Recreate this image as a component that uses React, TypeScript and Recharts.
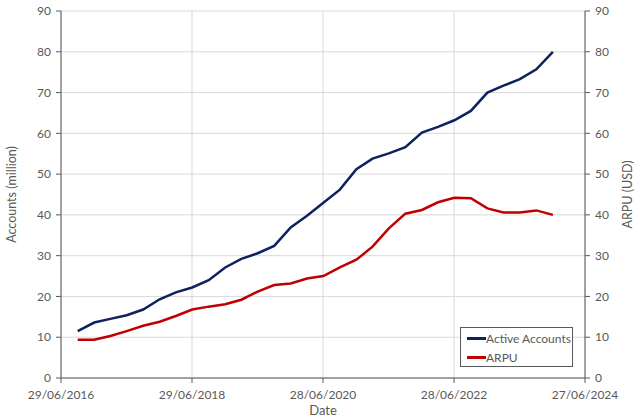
import React from 'react';
import {
  LineChart,
  Line,
  XAxis,
  YAxis,
  CartesianGrid,
} from 'recharts';

// quarter-end dates
const dates = [
  '2016-09-30', '2016-12-31', '2017-03-31', '2017-06-30', '2017-09-30', '2017-12-31',
  '2018-03-31', '2018-06-30', '2018-09-30', '2018-12-31', '2019-03-31', '2019-06-30',
  '2019-09-30', '2019-12-31', '2020-03-31', '2020-06-30', '2020-09-30', '2020-12-31',
  '2021-03-31', '2021-06-30', '2021-09-30', '2021-12-31', '2022-03-31', '2022-06-30',
  '2022-09-30', '2022-12-31', '2023-03-31', '2023-06-30', '2023-09-30', '2023-12-31',
];

const activeAccounts = [
  11.5, 13.6, 14.5, 15.4, 16.8, 19.3, 21.0, 22.2, 24.0, 27.1, 29.2, 30.6, 32.4, 36.9, 39.8,
  43.0, 46.2, 51.2, 53.8, 55.1, 56.6, 60.2, 61.6, 63.2, 65.5, 70.0, 71.7, 73.3, 75.7, 80.0,
];

const arpu = [
  9.4, 9.4, 10.3, 11.5, 12.8, 13.8, 15.2, 16.8, 17.5, 18.1, 19.2, 21.2, 22.8, 23.2, 24.4,
  25.0, 27.1, 29.0, 32.2, 36.7, 40.3, 41.2, 43.1, 44.2, 44.1, 41.6, 40.6, 40.6, 41.1, 40.0,
];

const xTickLabels = ['29/06/2016', '29/06/2018', '28/06/2020', '28/06/2022', '27/06/2024'];
const yTicks = [0, 10, 20, 30, 40, 50, 60, 70, 80, 90];

const DAY = 86400000;
const isoToDay = (s: string) => Date.parse(s + 'T00:00:00Z') / DAY;
const dmyToDay = (s: string) => {
  const [d, m, y] = s.split('/');
  return isoToDay(`${y}-${m}-${d}`);
};
const dayToDmy = (v: number) => {
  const dt = new Date(v * DAY);
  const dd = String(dt.getUTCDate()).padStart(2, '0');
  const mm = String(dt.getUTCMonth() + 1).padStart(2, '0');
  return `${dd}/${mm}/${dt.getUTCFullYear()}`;
};

const xTicks = xTickLabels.map(dmyToDay);

const data = dates.map((d, i) => ({
  t: isoToDay(d),
  accounts: activeAccounts[i],
  arpu: arpu[i],
}));

const FONT = 'Lato, "Open Sans", sans-serif';
const GRAY = '#595959';
const BLUE = '#0f2260';
const RED = '#c00000';

const tickStyle = { fontSize: 12, fill: GRAY, fontFamily: FONT };

function LegendBox() {
  const items = [
    { name: 'Active Accounts', color: BLUE },
    { name: 'ARPU', color: RED },
  ];
  return (
    <div
      style={{
        position: 'absolute',
        left: 460,
        top: 327,
        width: 113,
        height: 40,
        border: `1px solid ${GRAY}`,
        background: '#fff',
        boxSizing: 'border-box',
        paddingTop: 1,
      }}
    >
      {items.map((it) => (
        <div
          key={it.name}
          style={{ display: 'flex', alignItems: 'center', height: 19, paddingLeft: 6 }}
        >
          <span
            style={{ display: 'inline-block', width: 19, height: 3, background: it.color }}
          />
          <span style={{ fontSize: 12, color: GRAY, fontFamily: FONT, lineHeight: '14px' }}>
            {it.name}
          </span>
        </div>
      ))}
    </div>
  );
}

export default function App() {
  return (
    <div style={{ position: 'relative', width: 640, height: 418, background: '#fff' }}>
      <style>{`body{margin:0}`}</style>
      <LineChart
        width={640}
        height={418}
        data={data}
        margin={{ top: 11, right: 0, bottom: 0, left: 0 }}
      >
        <CartesianGrid stroke="#d9d9d9" strokeWidth={1} yAxisId="left" />
        <XAxis
          dataKey="t"
          type="number"
          domain={[xTicks[0], xTicks[xTicks.length - 1]]}
          ticks={xTicks}
          tickFormatter={dayToDmy}
          interval={0}
          height={40}
          tick={tickStyle}
          tickSize={5}
          tickMargin={7}
          stroke={GRAY}
          label={{
            value: 'Date',
            position: 'insideBottom',
            offset: 3,
            style: { fontSize: 13, fill: GRAY, fontFamily: FONT },
          }}
        />
        <YAxis
          yAxisId="left"
          domain={[0, 90]}
          ticks={yTicks}
          interval={0}
          width={61}
          tick={tickStyle}
          tickSize={5}
          tickMargin={5}
          stroke={GRAY}
          label={{
            value: 'Accounts (million)',
            angle: -90,
            position: 'insideLeft',
            offset: 12,
            style: { fontSize: 12.5, fill: GRAY, fontFamily: FONT, textAnchor: 'middle' },
          }}
        />
        <YAxis
          yAxisId="right"
          orientation="right"
          domain={[0, 90]}
          ticks={yTicks}
          interval={0}
          width={55}
          tick={tickStyle}
          tickSize={5}
          tickMargin={5}
          stroke={GRAY}
          label={{
            value: 'ARPU (USD)',
            angle: -90,
            position: 'insideRight',
            offset: 12,
            style: { fontSize: 12.5, fill: GRAY, fontFamily: FONT, textAnchor: 'middle' },
          }}
        />
        <Line
          yAxisId="left"
          type="linear"
          dataKey="accounts"
          name="Active Accounts"
          stroke={BLUE}
          strokeWidth={2.5}
          dot={false}
          isAnimationActive={false}
        />
        <Line
          yAxisId="right"
          type="linear"
          dataKey="arpu"
          name="ARPU"
          stroke={RED}
          strokeWidth={2.5}
          dot={false}
          isAnimationActive={false}
        />
      </LineChart>
      <LegendBox />
    </div>
  );
}
